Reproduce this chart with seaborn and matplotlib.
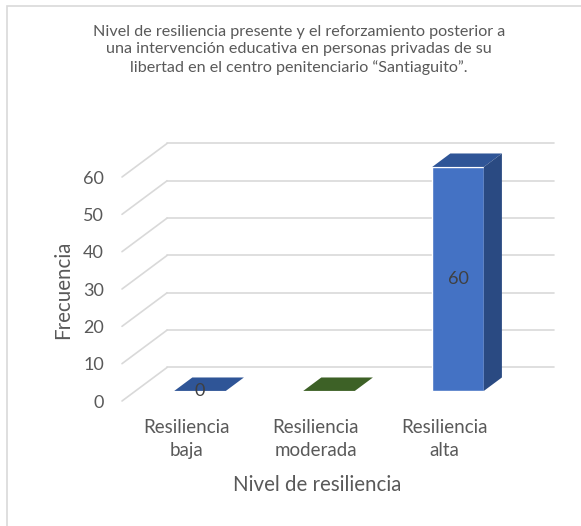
import matplotlib
matplotlib.use("Agg")
import matplotlib.pyplot as plt
from matplotlib.patches import Polygon, Rectangle
import seaborn as sns
import pandas as pd

# datos del gráfico
categorias = ["Resiliencia\nbaja", "Resiliencia\nmoderada", "Resiliencia\nalta"]
frecuencias = [0, 0, 60]
etiquetas = ["0", "", "60"]
ticks_y = [0, 10, 20, 30, 40, 50, 60]

titulo = ("Nivel de resiliencia presente y el reforzamiento posterior a\n"
          "una intervención educativa en personas privadas de su\n"
          "libertad en el centro penitenciario \u201cSantiaguito\u201d.")

col_frente = ["#4472C4", "#548235", "#4472C4"]
col_tapa = ["#2F5597", "#3D6126", "#2F5597"]
col_lado = ["#2A4A82", "#2F4D1D", "#2A4A82"]
gris_txt = "#595959"
gris_grid = "#D9D9D9"

sns.set_theme(style="white")
plt.rcParams["font.family"] = ["Lato", "DejaVu Sans"]

df = pd.DataFrame({"Nivel": categorias, "Frecuencia": frecuencias})

fig = plt.figure(figsize=(5.81, 5.26), dpi=100)
ax = fig.add_axes([122 / 581, 125 / 526, 387 / 581, 224 / 526])

# profundidad del efecto 3D (en unidades de datos)
prof_x, prof_y = 0.35, 9.0
f_bar0, f_bar = 0.3, 0.4

sns.barplot(data=df, x="Nivel", y="Frecuencia", hue="Nivel",
            palette=col_frente, width=0.4, legend=False, ax=ax,
            saturation=1, zorder=3)

ax.set_xlim(-0.5, 2.5)
ax.set_ylim(0, 60)

# pared del fondo y piso: líneas de la rejilla
for v in ticks_y:
    ax.plot([-0.5, -0.5 + prof_x], [v, v + prof_y], color=gris_grid,
            lw=1.2, clip_on=False, zorder=1)
    ax.plot([-0.5 + prof_x, 2.5 + prof_x], [v + prof_y, v + prof_y],
            color=gris_grid, lw=1.2, clip_on=False, zorder=1)

# barras 3D
for i, p in enumerate(ax.patches):
    x0 = p.get_x() + f_bar0 * prof_x
    y0 = f_bar0 * prof_y
    w = p.get_width()
    h = p.get_height()
    p.set_x(x0)
    p.set_y(y0)
    p.set_clip_on(False)
    dx, dy = f_bar * prof_x, f_bar * prof_y
    tapa = Polygon([(x0, y0 + h), (x0 + w, y0 + h), (x0 + w + dx, y0 + h + dy),
                    (x0 + dx, y0 + h + dy)], closed=True, facecolor=col_tapa[i],
                   edgecolor="none", clip_on=False, zorder=4)
    ax.add_patch(tapa)
    if h > 0:
        lado = Polygon([(x0 + w, y0), (x0 + w + dx, y0 + dy),
                        (x0 + w + dx, y0 + h + dy), (x0 + w, y0 + h)],
                       closed=True, facecolor=col_lado[i], edgecolor="none",
                       clip_on=False, zorder=4)
        ax.add_patch(lado)
    if etiquetas[i]:
        ax.text(x0 + w / 2, y0 + h / 2, etiquetas[i], ha="center",
                va="center", fontsize=13, color="#404040", zorder=6)

for s in ax.spines.values():
    s.set_visible(False)
ax.set_yticks(ticks_y)
ax.tick_params(axis="y", length=0, pad=13, labelsize=13, labelcolor=gris_txt)
ax.tick_params(axis="x", length=0, pad=13, labelsize=13.5, labelcolor=gris_txt)
for t in ax.get_xticklabels():
    t.set_linespacing(1.42)

ax.set_xlabel("Nivel de resiliencia", fontsize=14.8, color=gris_txt)
ax.xaxis.label.set_verticalalignment("center")
ax.xaxis.set_label_coords(0.504, -0.375)
ax.set_ylabel("Frecuencia", fontsize=14.8, color=gris_txt)
ax.yaxis.label.set_verticalalignment("center")
ax.yaxis.set_label_coords(-0.152, 0.495)

fig.text(299 / 581, 1 - 50 / 526, titulo, ha="center", va="center",
         fontsize=11.6, color=gris_txt, linespacing=1.3)

# marco del área del gráfico
fig.patches.append(Rectangle((7 / 581, -0.1), 1.0, 1.1 - 5.5 / 526,
                             transform=fig.transFigure, fill=False,
                             edgecolor="#D9D9D9", lw=1.2))

fig.savefig("out.png", dpi=100)
